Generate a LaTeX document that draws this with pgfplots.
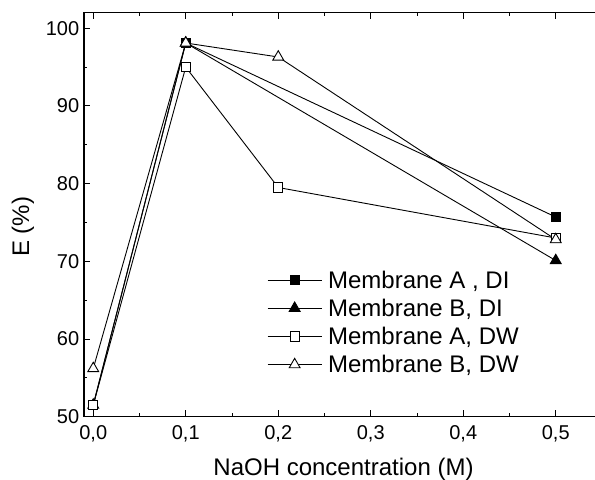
\documentclass[border=0pt]{standalone}
\usepackage{fontspec}
\setmainfont{Liberation Sans}
\usepackage{pgfplots}
\pgfplotsset{compat=1.18}
\begin{document}
\begin{tikzpicture}
\begin{axis}[
  scale only axis, width=518pt, height=404pt,
  xmin=-0.01, xmax=0.55, ymin=50, ymax=102,
  xtick={0,0.1,0.2,0.3,0.4,0.5}, ytick={50,60,70,80,90,100},
  minor x tick num=1, minor y tick num=1,
  tick align=inside, major tick length=6.5pt, minor tick length=3.5pt,
  axis line style={line width=1.3pt},
  every tick/.style={line width=1pt, black},
  /pgf/number format/assume math mode=true,
  xticklabel style={/pgf/number format/use comma, /pgf/number format/fixed,
    /pgf/number format/fixed zerofill, /pgf/number format/precision=1, yshift=-5.5pt},
  tick label style={font=\fontsize{20}{24}\selectfont},
  yticklabel style={xshift=-1.3pt},
  label style={font=\fontsize{24}{28}\selectfont},
  xlabel={NaOH concentration (M)}, ylabel={E (\%)},
  xlabel style={at={(axis description cs:0.501,0)}, anchor=base, yshift=-58.5pt},
  ylabel style={at={(axis description cs:-0.1178,0.47)}, anchor=center},
  legend style={draw=none, fill=none, at={(axis description cs:0.3475,0.372)}, anchor=north west,
    font=\fontsize{24}{28}\selectfont, row sep=5.3pt, column sep=4pt},
  legend cell align=left,
  legend image code/.code={\draw[mark repeat=2, mark phase=2, #1] plot coordinates {(0pt,0pt) (27pt,0pt) (54pt,0pt)};},
  every axis plot/.append style={black, line width=0.9pt, mark options={solid, line width=0.9pt}},
]
\addplot[mark=square*, mark size=4.6pt, mark options={fill=black}] coordinates {(0,51.5) (0.1,98.1) (0.5,75.7)};
\addlegendentry{Membrane A , DI}
\addplot[mark=triangle*, mark size=6.3pt, mark options={fill=black}] coordinates {(0,51.5) (0.1,98.1) (0.5,70.1)};
\addlegendentry{Membrane B, DI}
\addplot[mark=square*, mark size=4.6pt, mark options={fill=white}] coordinates {(0,51.5) (0.1,95.0) (0.2,79.5) (0.5,73.0)};
\addlegendentry{Membrane A, DW}
\addplot[mark=triangle*, mark size=6.3pt, mark options={fill=white}] coordinates {(0,56.2) (0.1,98.1) (0.2,96.3) (0.5,72.8)};
\addlegendentry{Membrane B, DW}
\end{axis}
\pgfresetboundingbox
\path[use as bounding box] ([shift={(-84pt,-62.3pt)}]current axis.south west) rectangle ([shift={(-7pt,12.7pt)}]current axis.north east);
\end{tikzpicture}
\end{document}
